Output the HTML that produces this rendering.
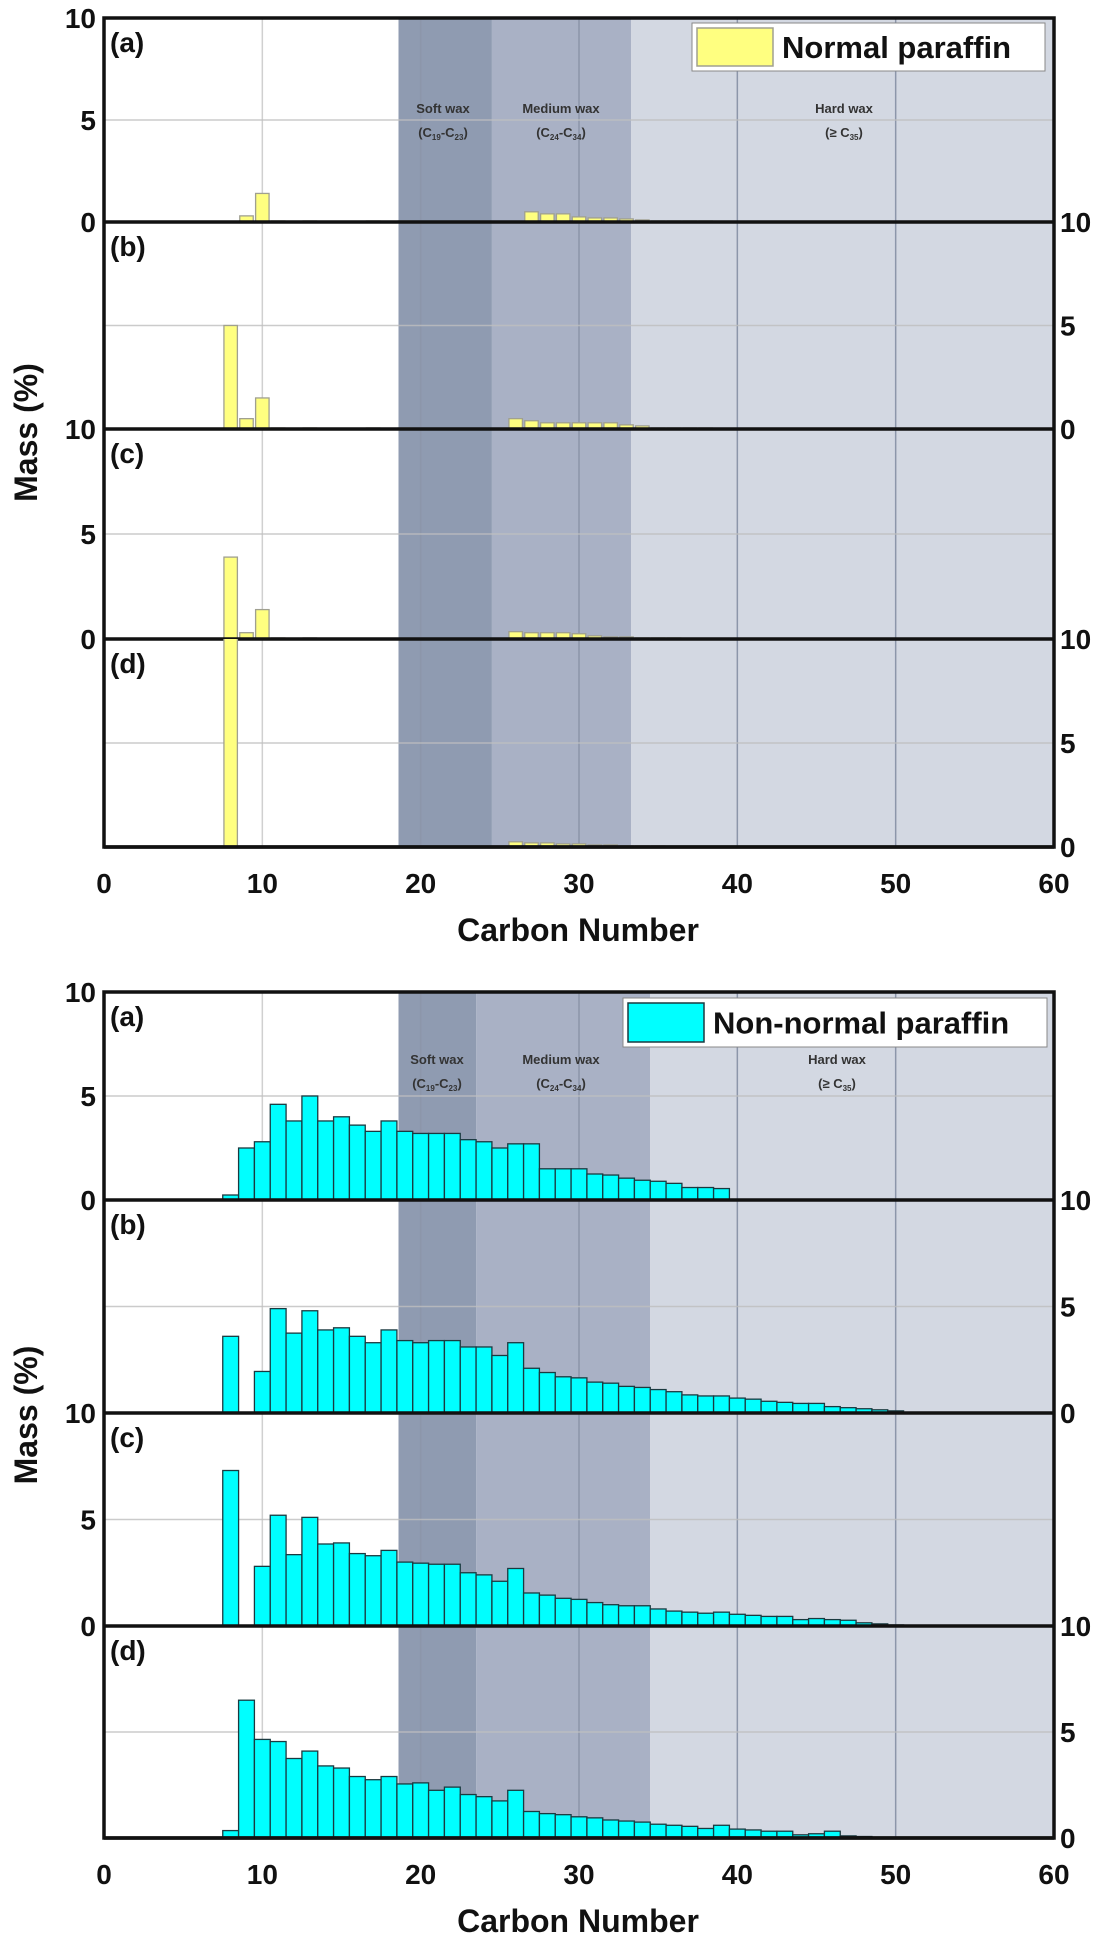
<!DOCTYPE html>
<html><head><meta charset="utf-8"><style>
html,body{margin:0;padding:0;background:#fff;}
svg{display:block;font-family:"Liberation Sans",Arial,sans-serif;}
</style></head><body>
<svg id="fig" width="1102" height="1936" viewBox="0 0 1102 1936" xmlns="http://www.w3.org/2000/svg"></svg>
<script>
// ---- data (Mass %, carbon numbers) ----
const carbonNumbers = Array.from({length: 60}, (_, i) => i + 1);
const xTickLabels = ["0","10","20","30","40","50","60"];
const panelLetters = ["(a)","(b)","(c)","(d)"];
// normal paraffin, entries as [carbon, mass]
const normalA = [[9,0.3],[10,1.4],[11,0.05],[13,0.05],[17,0.05],[19,0.05],[27,0.5],[28,0.4],[29,0.4],[30,0.25],[31,0.2],[32,0.2],[33,0.15],[34,0.1],[35,0.05],[36,0.05],[37,0.05],[38,0.05]];
const normalB = [[8,5.0],[9,0.5],[10,1.5],[11,0.05],[13,0.05],[17,0.05],[19,0.05],[26,0.5],[27,0.4],[28,0.3],[29,0.3],[30,0.3],[31,0.3],[32,0.3],[33,0.2],[34,0.15],[35,0.05],[36,0.05],[37,0.05],[38,0.05]];
const normalC = [[8,3.9],[9,0.3],[10,1.4],[11,0.05],[13,0.05],[26,0.35],[27,0.3],[28,0.3],[29,0.3],[30,0.25],[31,0.15],[32,0.1],[33,0.1],[34,0.05],[35,0.05],[36,0.05],[37,0.03]];
const normalD = [[8,10.5],[26,0.25],[27,0.2],[28,0.2],[29,0.15],[30,0.15],[31,0.1],[32,0.1],[33,0.05],[34,0.05],[35,0.05],[36,0.03]];
// non-normal paraffin, starting at C8
const nonNormalStart = 8;
const nonA = [0.24,2.5,2.8,4.6,3.8,5.0,3.8,4.0,3.6,3.3,3.8,3.3,3.2,3.2,3.2,2.9,2.8,2.5,2.7,2.7,1.5,1.5,1.5,1.25,1.2,1.05,0.95,0.9,0.8,0.6,0.6,0.55];
const nonB = [3.6,0,1.95,4.9,3.75,4.8,3.9,4.0,3.6,3.3,3.9,3.4,3.3,3.4,3.4,3.1,3.1,2.7,3.3,2.1,1.9,1.7,1.65,1.45,1.4,1.25,1.2,1.1,1.0,0.85,0.8,0.8,0.7,0.65,0.55,0.5,0.45,0.45,0.3,0.25,0.2,0.15,0.1,0.03,0.03,0.03,0.03,0.03];
const nonC = [7.3,0,2.8,5.2,3.35,5.1,3.85,3.9,3.4,3.3,3.55,3.0,2.95,2.9,2.9,2.5,2.4,2.1,2.7,1.55,1.45,1.3,1.25,1.1,1.0,0.95,0.95,0.8,0.7,0.65,0.6,0.65,0.55,0.5,0.45,0.45,0.3,0.35,0.3,0.27,0.15,0.1,0.05];
const nonD = [0.35,6.5,4.65,4.55,3.75,4.1,3.4,3.3,2.9,2.75,2.9,2.55,2.6,2.25,2.4,2.05,1.95,1.75,2.25,1.25,1.15,1.1,1.0,0.95,0.85,0.8,0.75,0.65,0.6,0.55,0.45,0.6,0.42,0.38,0.32,0.32,0.15,0.2,0.32,0.1,0.07];

const NS = "http://www.w3.org/2000/svg";
const svg = document.getElementById("fig");
function mk(tag, attrs, parent) {
  const e = document.createElementNS(NS, tag);
  for (const k in attrs) e.setAttribute(k, attrs[k]);
  (parent || svg).appendChild(e);
  return e;
}
const X0 = 104, X1 = 1054;
function xs(c) { return X0 + (c / 60) * (X1 - X0); }

function drawChart(cfg) {
  const g = mk("g", {});
  
  
  const top = cfg.bounds[0], bot = cfg.bounds[4];
  // regions
  const regs = [[cfg.soft[0], cfg.soft[1], "#8f9bb1", "soft-wax-region"], [cfg.soft[1], cfg.med, "#a9b1c5", "medium-wax-region"], [cfg.med, 60, "#d3d8e2", "hard-wax-region"]];
  regs.forEach(r => {
    const e = mk("rect", {x: xs(r[0]), y: top, width: xs(r[1]) - xs(r[0]), height: bot - top, fill: r[2]}, g);
    
    
  });
  // vertical grid
  [10,20,30,40,50].forEach(v => {
    const e = mk("line", {x1: xs(v), x2: xs(v), y1: top, y2: bot, stroke: v < cfg.soft[0] ? "#d0d0d0" : "#8c96aa", "stroke-width": 1.5}, g);
    
    
  });
  // panels
  for (let p = 0; p < 4; p++) {
    const pt = cfg.bounds[p], pb = cfg.bounds[p + 1];
    const ys = v => pb - (v / 10) * (pb - pt);
    const gl = mk("line", {x1: X0, x2: X1, y1: ys(5), y2: ys(5), stroke: "#bfbfbf", "stroke-width": 1.5, opacity: 0.8}, g);
    
    
    const clipId = cfg.name + "-clip" + p;
    const cp = mk("clipPath", {id: clipId}, g);
    mk("rect", {x: X0, y: pt, width: X1 - X0, height: pb - pt}, cp);
    const bg = mk("g", {"clip-path": "url(#" + clipId + ")"}, g);
    
    
    cfg.data[p].forEach(d => {
      const c = d[0], v = d[1];
      if (v <= 0) return;
      const b = mk("rect", {x: xs(c - cfg.bw / 2), y: ys(v), width: xs(c + cfg.bw / 2) - xs(c - cfg.bw / 2), height: ys(0) - ys(v), fill: cfg.fill, stroke: cfg.stroke, "stroke-width": 1.3}, bg);
      
      
    });
    const lt = mk("text", {x: X0 + 6, y: pt + 34, "font-size": 28, "font-weight": "bold", fill: "#111"}, g);
    lt.textContent = panelLetters[p];
    
    
    // y tick labels
    const left = (p % 2 === 0);
    const tx = left ? X0 - 8 : X1 + 6;
    const anchor = left ? "end" : "start";
    ["0","5","10"].forEach((t, i) => {
      if (left && p === 2 && t === "10") { /* drawn at boundary */ }
      const yy = ys(i * 5);
      const e = mk("text", {x: tx, y: yy + 10, "font-size": 28, "font-weight": "bold", "text-anchor": anchor, fill: "#111"}, g);
      e.textContent = t;
      
      
    });
    // panel separator
    const sep = mk("line", {x1: X0, x2: X1, y1: pb, y2: pb, stroke: "#111", "stroke-width": 3.5}, g);
    
    
  }
  // frame
  const fr = mk("rect", {x: X0, y: top, width: X1 - X0, height: bot - top, fill: "none", stroke: "#111", "stroke-width": 3.5}, g);
  
  
  // region labels
  const rl = [[cfg.softX, "Soft wax", "19", "23", ""], [cfg.medX, "Medium wax", "24", "34", ""], [cfg.hardX, "Hard wax", "35", null, "≥ "]];
  rl.forEach(r => {
    const t1 = mk("text", {x: r[0], y: cfg.labelY, "font-size": 13, "font-weight": "bold", "text-anchor": "middle", fill: "#333"}, g);
    t1.textContent = r[1];
    
    
    const t2 = mk("text", {x: r[0], y: cfg.labelY + 24, "font-size": 13, "font-weight": "bold", "text-anchor": "middle", fill: "#333"}, g);
    
    
    let h = "(" + r[4] + "C<tspan font-size='8' dy='3'>" + r[2] + "</tspan>";
    if (r[3]) h += "<tspan dy='-3'>-C</tspan><tspan font-size='8' dy='3'>" + r[3] + "</tspan>";
    h += "<tspan dy='-3'>)</tspan>";
    t2.innerHTML = h;
  });
  // legend
  const L = cfg.legend;
  const lb = mk("rect", {x: L[0], y: L[1], width: L[2], height: L[3], fill: "#fff", stroke: "#888", "stroke-width": 1}, g);
  
  
  const sw = mk("rect", {x: L[0] + 5, y: L[1] + 5, width: 76, height: L[3] - 10, fill: cfg.fill, stroke: cfg.stroke, "stroke-width": 1.5}, g);
  
  
  const lt2 = mk("text", {x: L[0] + 90, y: L[1] + L[3] / 2 + 11, "font-size": 31, "font-weight": "bold", fill: "#111"}, g);
  lt2.textContent = cfg.legendText;
  
  
  // x ticks
  xTickLabels.forEach((t, i) => {
    const e = mk("text", {x: xs(i * 10), y: bot + 46, "font-size": 28, "font-weight": "bold", "text-anchor": "middle", fill: "#111"}, g);
    e.textContent = t;
    
    
  });
  const xt = mk("text", {x: 578, y: bot + 94, "font-size": 32, "font-weight": "bold", "text-anchor": "middle", fill: "#111"}, g);
  xt.textContent = "Carbon Number";
  
  
  const cy = (top + bot) / 2;
  const yt = mk("text", {x: 0, y: 0, "font-size": 32, "font-weight": "bold", "text-anchor": "middle", fill: "#111", transform: "translate(37," + cy + ") rotate(-90)"}, g);
  yt.textContent = "Mass (%)";
  
  
}

function toPairs(arr) { return arr.map((v, i) => [nonNormalStart + i, v]); }

drawChart({name: "normal-paraffin-chart", bounds: [18,222,429,639,847], data: [normalA, normalB, normalC, normalD],
  fill: "#ffff80", stroke: "#a0a090", bw: 0.85, soft: [18.6, 24.5], med: 33.3,
  softX: 443, medX: 561, hardX: 844, labelY: 113,
  legend: [692, 23, 353, 48], legendText: "Normal paraffin"});
drawChart({name: "non-normal-paraffin-chart", bounds: [992,1200,1413,1626,1838], data: [toPairs(nonA), toPairs(nonB), toPairs(nonC), toPairs(nonD)],
  fill: "#00ffff", stroke: "#1a3a40", bw: 1.0, soft: [18.6, 23.5], med: 34.5,
  softX: 437, medX: 561, hardX: 837, labelY: 1064,
  legend: [623, 998, 424, 49], legendText: "Non-normal paraffin"});
</script>
</body></html>
